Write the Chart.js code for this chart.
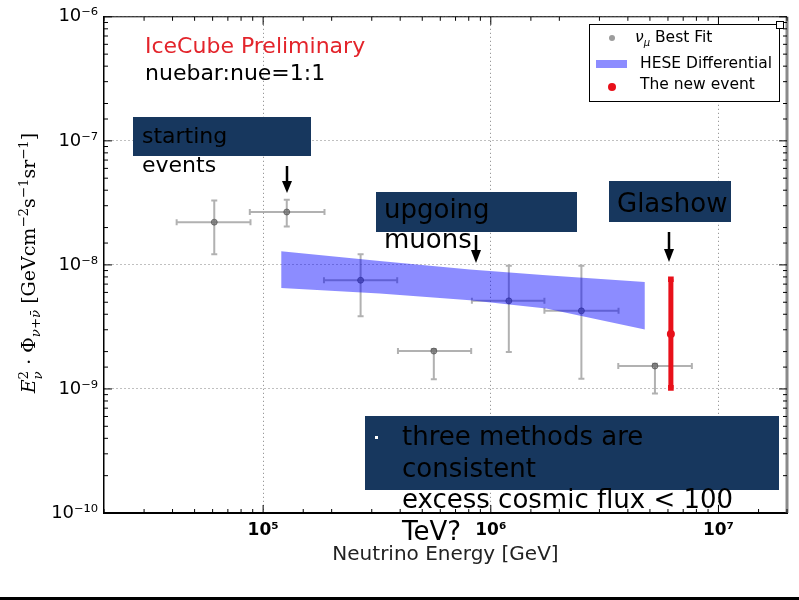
<!DOCTYPE html>
<html lang="en">
<head>
<meta charset="UTF-8">
<title>Neutrino flux</title>
<script src="https://cdn.jsdelivr.net/npm/chart.js"></script>
<style>
    body {
        margin: 0;
        background: #fff;
        font-family: "DejaVu Sans", sans-serif;
    }
    #wrap {
        position: relative;
        width: 799px;
        height: 600px;
        overflow: hidden;
    }
    #wrap canvas { position: absolute; left: 0; top: 0; }
    .txt { position: absolute; white-space: nowrap; }
    .box { position: absolute; background: #17375e; }
    .slide { font-size: 26px; line-height: 30px; color: #000; }
    #ytitle {
        position: absolute;
        left: 31px;
        top: 263px;
        transform: translate(-50%, -50%) rotate(-90deg);
        white-space: nowrap;
        font-family: "DejaVu Serif", serif;
        font-size: 19px;
        color: #000;
    }
    .ss {
        display: inline-block;
        vertical-align: -0.55em;
        font-size: 0.7em;
        line-height: 1.05em;
    }
    .ss span { display: block; }
    sup, sub { font-size: 0.7em; line-height: 0; }
    #legend {
        position: absolute;
        left: 589px; top: 24px;
        width: 189px; height: 76px;
        border: 1.5px solid #000;
        background: #fff;
        font-size: 15.5px;
    }
    #legend .row { position: absolute; left: 0; height: 15.5px; line-height: 15.5px; white-space: nowrap; }
</style>
</head>
<body>
<div id="wrap">
    <canvas id="fluxChart" width="799" height="600"></canvas>

    <div class="txt" style="left:145px;top:35px;font-size:22px;line-height:22px;color:#e3242b">IceCube Preliminary</div>
    <div class="txt" style="left:145px;top:62px;font-size:22px;line-height:22px;color:#000">nuebar:nue=1:1</div>

    <div id="legend">
        <div class="row" style="top:5px">
            <span style="position:absolute;left:19px;top:5px;width:6px;height:6px;border-radius:50%;background:rgba(90,90,90,0.6)"></span>
            <span style="position:absolute;left:45px"><i>ν</i><sub style="font-size:10px"><i>μ</i></sub>&nbsp;Best Fit</span>
        </div>
        <div class="row" style="top:31px">
            <span style="position:absolute;left:6px;top:4px;width:31px;height:8px;background:rgba(0,0,255,0.45)"></span>
            <span style="position:absolute;left:50px">HESE Differential</span>
        </div>
        <div class="row" style="top:52px">
            <span style="position:absolute;left:18px;top:6px;width:8px;height:8px;border-radius:50%;background:#e8101a"></span>
            <span style="position:absolute;left:50px">The new event</span>
        </div>
        <div style="position:absolute;left:186px;top:-4px;width:6px;height:6px;border:1px solid #000;background:#fff"></div>
    </div>

    <div class="box" style="left:133px;top:117px;width:178px;height:39px"></div>
    <div class="txt" style="left:142px;top:121px;font-size:22px;line-height:29px;color:#000">starting<br>events</div>

    <div class="box" style="left:376px;top:192px;width:201px;height:40px"></div>
    <div class="txt slide" style="left:384px;top:194px">upgoing<br>muons</div>

    <div class="box" style="left:609px;top:181px;width:122px;height:41px"></div>
    <div class="txt slide" style="left:617px;top:188px">Glashow</div>

    <div class="box" style="left:365px;top:416px;width:414px;height:74px"></div>
    <div style="position:absolute;left:375px;top:436px;width:3px;height:3px;background:#fff"></div>
    <div class="txt slide" style="left:402px;top:421px;line-height:31.5px">three methods are<br>consistent<br>excess cosmic flux &lt; 100<br>TeV?</div>

    <svg width="799" height="600" style="position:absolute;left:0;top:0;pointer-events:none">
        <g fill="#000" stroke="#000">
            <line x1="287" y1="166" x2="287" y2="184" stroke-width="2.5"/>
            <polygon points="282,181 292,181 287,193" stroke="none"/>
            <line x1="476" y1="235" x2="476" y2="253" stroke-width="2.5"/>
            <polygon points="471,250 481,250 476,263" stroke="none"/>
            <line x1="669" y1="232" x2="669" y2="252" stroke-width="2.5"/>
            <polygon points="664,249 674,249 669,262" stroke="none"/>
        </g>
    </svg>

    <div id="ytitle"><i>E</i><span class="ss"><span>2</span><span><i>ν</i></span></span> · Φ<sub><i>ν</i>+<i>ν̄</i></sub> [GeVcm<sup>−2</sup>s<sup>−1</sup>sr<sup>−1</sup>]</div>

    <div style="position:absolute;left:0;top:597px;width:799px;height:3px;background:#000"></div>
</div>

<script>
// nu_mu best fit points (energy in GeV, E^2 flux in GeV cm^-2 s^-1 sr^-1)
const fitEnergy   = [6.1e4, 1.27e5, 2.68e5, 5.62e5, 1.20e6, 2.50e6, 5.26e6];
const fitEnergyLo = [4.17e4, 8.74e4, 1.85e5, 3.91e5, 8.26e5, 1.72e6, 3.63e6];
const fitEnergyHi = [8.8e4, 1.86e5, 3.88e5, 8.2e5, 1.72e6, 3.64e6, 7.64e6];
const fitFlux     = [2.21e-8, 2.67e-8, 7.52e-9, 2.02e-9, 5.13e-9, 4.26e-9, 1.53e-9];
const fitFluxLo   = [1.22e-8, 2.04e-8, 3.86e-9, 1.20e-9, 1.99e-9, 1.21e-9, 9.2e-10];
const fitFluxHi   = [3.31e-8, 3.35e-8, 1.22e-8, 2.1e-9, 9.86e-9, 9.86e-9, 1.6e-9];

// HESE differential band
const heseEnergy = [1.2e5, 3.25e5, 8.1e5, 1.75e6, 4.75e6];
const heseUpper  = [1.29e-8, 1.075e-8, 9.17e-9, 8.25e-9, 7.28e-9];
const heseLower  = [6.52e-9, 5.88e-9, 5.19e-9, 4.45e-9, 3.02e-9];

// the new event: low, central, high
const newEventEnergy = 6.18e6;
const newEventFlux = [1.02e-9, 2.77e-9, 7.66e-9];

// tick labels
const xDecades = [1e5, 1e6, 1e7];
const xDecadeLabels = ['10⁵', '10⁶', '10⁷'];
const yDecades = [1e-10, 1e-9, 1e-8, 1e-7, 1e-6];
const yDecadeLabels = ['10⁻¹⁰', '10⁻⁹', '10⁻⁸', '10⁻⁷', '10⁻⁶'];

function isDecade(v) {
    const l = Math.log10(v);
    return Math.abs(l - Math.round(l)) < 1e-6;
}
function decadeLabel(v, decades, labels) {
    const i = decades.findIndex(d => Math.abs(v / d - 1) < 1e-6);
    return i >= 0 ? labels[i] : '';
}

const errorBars = {
    id: 'errorBars',
    beforeDatasetsDraw(chart) {
        const {ctx, scales: {x, y}} = chart;
        ctx.save();
        ctx.strokeStyle = 'rgba(125,125,125,0.6)';
        ctx.lineWidth = 2;
        for (let i = 0; i < fitEnergy.length; i++) {
            const px = x.getPixelForValue(fitEnergy[i]);
            const py = y.getPixelForValue(fitFlux[i]);
            const x0 = x.getPixelForValue(fitEnergyLo[i]);
            const x1 = x.getPixelForValue(fitEnergyHi[i]);
            const y0 = y.getPixelForValue(fitFluxLo[i]);
            const y1 = y.getPixelForValue(fitFluxHi[i]);
            ctx.beginPath();
            ctx.moveTo(x0, py); ctx.lineTo(x1, py);
            ctx.moveTo(x0, py - 3); ctx.lineTo(x0, py + 3);
            ctx.moveTo(x1, py - 3); ctx.lineTo(x1, py + 3);
            ctx.moveTo(px, y0); ctx.lineTo(px, y1);
            ctx.moveTo(px - 3, y0); ctx.lineTo(px + 3, y0);
            ctx.moveTo(px - 3, y1); ctx.lineTo(px + 3, y1);
            ctx.stroke();
        }
        ctx.restore();
    }
};

const frame = {
    id: 'frame',
    afterDraw(chart) {
        const {ctx, chartArea: a, scales: {x, y}} = chart;
        ctx.save();
        ctx.strokeStyle = '#8a8a8a';
        ctx.lineWidth = 3;
        ctx.beginPath();
        ctx.moveTo(a.right, a.top); ctx.lineTo(a.right, a.bottom);
        ctx.stroke();
        ctx.strokeStyle = '#000';
        ctx.lineWidth = 1;
        ctx.beginPath();
        ctx.moveTo(a.left, a.top); ctx.lineTo(a.right, a.top);
        x.ticks.forEach(t => {
            const px = x.getPixelForValue(t.value);
            const len = isDecade(t.value) ? 8 : 4;
            ctx.moveTo(px, a.bottom); ctx.lineTo(px, a.bottom - len);
            ctx.moveTo(px, a.top); ctx.lineTo(px, a.top + len);
        });
        y.ticks.forEach(t => {
            const py = y.getPixelForValue(t.value);
            const len = isDecade(t.value) ? 8 : 4;
            ctx.moveTo(a.left, py); ctx.lineTo(a.left + len, py);
            ctx.moveTo(a.right, py); ctx.lineTo(a.right - len, py);
        });
        ctx.stroke();
        ctx.restore();
    }
};

const gridColor = c => (c.tick && isDecade(c.tick.value)) ? '#808080' : 'rgba(0,0,0,0)';

new Chart(document.getElementById('fluxChart'), {
    type: 'scatter',
    data: {
        datasets: [
            {
                label: 'ν_μ Best Fit',
                data: fitEnergy.map((e, i) => ({x: e, y: fitFlux[i]})),
                pointRadius: 3,
                backgroundColor: 'rgba(90,90,90,0.6)',
                borderColor: 'rgba(70,70,70,0.6)',
                borderWidth: 1,
                order: 3
            },
            {
                label: 'HESE upper',
                data: heseEnergy.map((e, i) => ({x: e, y: heseUpper[i]})),
                showLine: true,
                borderWidth: 0,
                pointRadius: 0,
                fill: false,
                order: 2
            },
            {
                label: 'HESE Differential',
                data: heseEnergy.map((e, i) => ({x: e, y: heseLower[i]})),
                showLine: true,
                borderWidth: 0,
                pointRadius: 0,
                backgroundColor: 'rgba(0,0,255,0.45)',
                fill: '-1',
                order: 2
            },
            {
                label: 'The new event',
                data: newEventFlux.map(f => ({x: newEventEnergy, y: f})),
                showLine: true,
                borderColor: '#e8101a',
                borderWidth: 5,
                backgroundColor: '#e8101a',
                pointBorderWidth: 0,
                pointRadius: [4, 4, 4],
                pointStyle: ['rect', 'circle', 'rect'],
                order: 1
            }
        ]
    },
    options: {
        responsive: false,
        animation: false,
        layout: { padding: { top: 16, right: 12, left: 0, bottom: 0 } },
        plugins: {
            legend: { display: false },
            tooltip: { enabled: false }
        },
        scales: {
            x: {
                type: 'logarithmic',
                min: 2e4,
                max: 2e7,
                afterFit: s => { s.height = 87; },
                grid: { color: gridColor, drawTicks: false, lineWidth: 1 },
                border: { color: '#000', width: 2, dash: [1, 3] },
                ticks: {
                    autoSkip: false,
                    maxRotation: 0,
                    padding: 7,
                    color: '#000',
                    font: { family: 'DejaVu Sans', size: 17, weight: 'bold' },
                    callback: v => decadeLabel(v, xDecades, xDecadeLabels)
                },
                title: {
                    display: true,
                    text: 'Neutrino Energy [GeV]',
                    color: '#222',
                    font: { family: 'DejaVu Sans', size: 20 },
                    padding: { top: 0, bottom: 33 }
                }
            },
            y: {
                type: 'logarithmic',
                min: 1e-10,
                max: 1e-6,
                afterFit: s => { s.width = 104; },
                grid: { color: gridColor, drawTicks: false, lineWidth: 1 },
                border: { color: '#000', width: 1.5, dash: [1, 3] },
                ticks: {
                    autoSkip: false,
                    padding: 6,
                    color: '#000',
                    font: { family: 'DejaVu Sans', size: 18 },
                    callback: v => decadeLabel(v, yDecades, yDecadeLabels)
                }
            }
        }
    },
    plugins: [errorBars, frame]
});
</script>
</body>
</html>
